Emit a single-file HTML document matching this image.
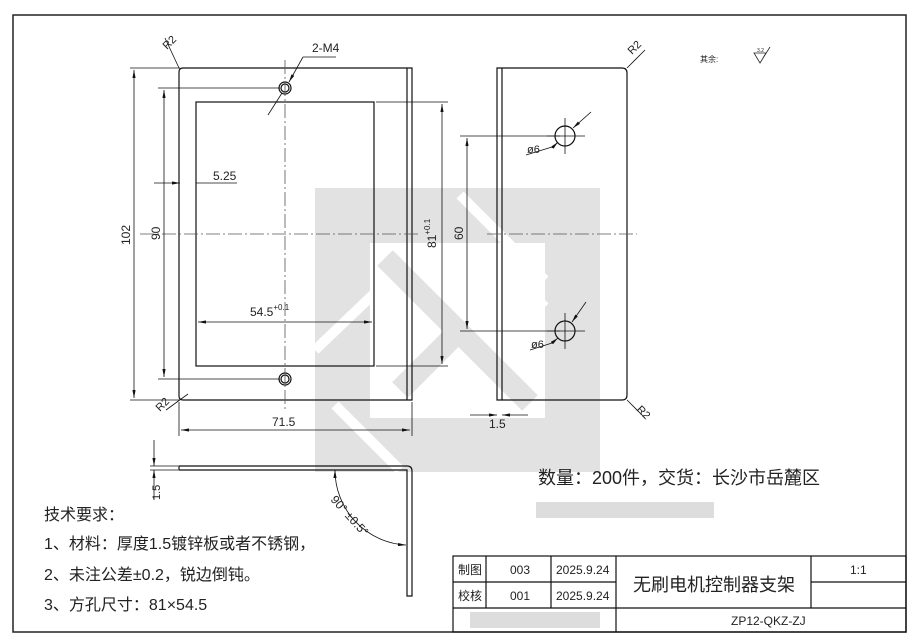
<!DOCTYPE html>
<html><head><meta charset="utf-8"><style>
body{margin:0;background:#fff;width:915px;height:641px;overflow:hidden}
svg{display:block}
text{font-family:"Liberation Sans","Noto Sans CJK SC",sans-serif;fill:#222}
.n{font-family:"Liberation Sans Narrow","Liberation Sans",sans-serif}
</style></head><body>
<svg width="915" height="641" viewBox="0 0 915 641" xmlns="http://www.w3.org/2000/svg">
<defs><marker id="a" viewBox="0 0 10 4" refX="10" refY="2" markerWidth="10" markerHeight="4" orient="auto-start-reverse"><path d="M0,0L10,2L0,4z" fill="#111"/></marker></defs>
<g fill="#e2e2e2">
<rect x="315" y="188" width="285" height="284"/>
</g>
<rect x="370" y="243" width="175" height="175" fill="#fff"/>
<g stroke="#fff" stroke-width="10">
<line x1="460" y1="195" x2="545" y2="280"/>
<line x1="315" y1="350" x2="380" y2="288"/>
<line x1="380" y1="340" x2="450" y2="410"/>
<line x1="470" y1="375" x2="545" y2="300"/>
<line x1="400" y1="470" x2="335" y2="405"/>
</g>
<g stroke="#e2e2e2" stroke-width="22">
<line x1="385" y1="258" x2="530" y2="403"/>
<line x1="400" y1="390" x2="455" y2="335"/>
</g>
<rect x="13" y="15" width="893" height="617" fill="none" stroke="#222" stroke-width="1.5"/>
<g fill="none" stroke="#111" stroke-width="1.2">
<path d="M183,68H412V400H183Q179,400 179,396V72Q179,68 183,68Z"/>
<line x1="407" y1="68" x2="407" y2="400"/>
<rect x="196" y="102" width="178" height="264"/>
<circle cx="285" cy="88" r="6"/><circle cx="285" cy="88" r="4"/>
<circle cx="285" cy="379" r="6"/><circle cx="285" cy="379" r="4"/>
<path d="M497,68H622Q627,68 627,73V395Q627,400 622,400H497Z"/>
<line x1="502" y1="68" x2="502" y2="400"/>
<circle cx="565" cy="136" r="10"/><circle cx="565" cy="331" r="10"/>
<path d="M179,466H407Q412,466 412,471V596H407V470H179Z"/>
</g>
<g stroke="#555" stroke-width="0.8" stroke-dasharray="14,3,2,3" fill="none">
<line x1="285" y1="60" x2="285" y2="410"/>
<line x1="140" y1="234" x2="420" y2="234"/>
<line x1="487" y1="234" x2="637" y2="234"/>
</g>
<g stroke="#111" stroke-width="0.8" fill="none">
<line x1="565" y1="118" x2="565" y2="154"/><line x1="547" y1="136" x2="585" y2="136"/>
<line x1="565" y1="313" x2="565" y2="349"/><line x1="547" y1="331" x2="585" y2="331"/>
<line x1="130" y1="68" x2="180" y2="68"/><line x1="130" y1="400" x2="180" y2="400"/>
<line x1="134" y1="70" x2="134" y2="398" marker-start="url(#a)" marker-end="url(#a)"/>
<line x1="158" y1="88" x2="280" y2="88"/><line x1="158" y1="379" x2="280" y2="379"/>
<line x1="164" y1="90" x2="164" y2="377" marker-start="url(#a)" marker-end="url(#a)"/>
<line x1="154" y1="183" x2="180" y2="183" marker-end="url(#a)"/><line x1="196" y1="183" x2="237" y2="183"/>
<line x1="198" y1="322" x2="372" y2="322" marker-start="url(#a)" marker-end="url(#a)"/>
<line x1="376" y1="102" x2="448" y2="102"/><line x1="376" y1="366" x2="448" y2="366"/>
<line x1="442" y1="104" x2="442" y2="364" marker-start="url(#a)" marker-end="url(#a)"/>
<line x1="179" y1="402" x2="179" y2="436"/><line x1="412" y1="402" x2="412" y2="436"/>
<line x1="181" y1="430" x2="410" y2="430" marker-start="url(#a)" marker-end="url(#a)"/>
<line x1="268" y1="115" x2="282" y2="93" /><line x1="289" y1="82" x2="303" y2="57" marker-start="url(#a)"/><line x1="303" y1="57" x2="336" y2="57"/>
<line x1="165" y1="38" x2="179" y2="68" /><line x1="188" y1="394" x2="166" y2="410"/>
<line x1="460" y1="136" x2="560" y2="136"/><line x1="460" y1="331" x2="560" y2="331"/>
<line x1="467" y1="138" x2="467" y2="329" marker-start="url(#a)" marker-end="url(#a)"/>
<line x1="526" y1="155" x2="552" y2="147" /><line x1="552" y1="148" x2="558" y2="142" marker-end="url(#a)"/><line x1="573" y1="128" x2="591" y2="112" marker-start="url(#a)"/>
<line x1="530" y1="350" x2="552" y2="343" /><line x1="552" y1="343" x2="558" y2="338" marker-end="url(#a)"/><line x1="572" y1="322" x2="586" y2="302" marker-start="url(#a)"/>
<line x1="470" y1="415" x2="497" y2="415" marker-end="url(#a)"/><line x1="502" y1="415" x2="528" y2="415" marker-start="url(#a)"/>
<line x1="627" y1="68" x2="645" y2="50"/><line x1="627" y1="400" x2="645" y2="418"/>
<line x1="150" y1="466" x2="178" y2="466"/><line x1="150" y1="470" x2="178" y2="470"/>
<line x1="154" y1="440" x2="154" y2="466" marker-end="url(#a)"/><line x1="154" y1="470" x2="154" y2="500" marker-start="url(#a)"/>
<path d="M335,470 A75,75 0 0 0 406,545" marker-start="url(#a)" marker-end="url(#a)"/>
</g>
<g class="n" font-size="12">
<text x="312" y="52">2-M4</text>
<text x="213" y="180">5.25</text>
<text x="250" y="316">54.5<tspan font-size="8" dy="-6">+0.1</tspan></text>
<text x="272" y="426">71.5</text>
<text x="489" y="428">1.5</text>
<text x="527" y="153" font-size="11">ø6</text>
<text x="531" y="348" font-size="11">ø6</text>
<text transform="translate(130,245) rotate(-90)">102</text>
<text transform="translate(160,240) rotate(-90)">90</text>
<text transform="translate(436,248) rotate(-90)">81<tspan font-size="8" dy="-6">+0.1</tspan></text>
<text transform="translate(463,240) rotate(-90)">60</text>
<text transform="translate(160,500) rotate(-90)" font-size="11">1.5</text>
<text transform="translate(167,50) rotate(-45)" font-size="11">R2</text>
<text transform="translate(160,412) rotate(-45)" font-size="11">R2</text>
<text transform="translate(632,55) rotate(-45)" font-size="11">R2</text>
<text transform="translate(636,410) rotate(45)" font-size="11">R2</text>
<text transform="translate(330,500) rotate(48)" font-size="12">90° ±0.5°</text>
</g>
<text x="700" y="62" font-size="8">其余:</text>
<text x="757" y="52" font-size="5">3.2</text>
<path d="M754,53H766L760,63Z M760,63L770,47" fill="none" stroke="#222" stroke-width="0.8"/>
<text x="538" y="484" font-size="18">数量：200件，交货：长沙市岳麓区</text>
<rect x="536" y="502" width="178" height="16" fill="#ddd"/>
<text x="44" y="520" font-size="16">技术要求：</text>
<text x="44" y="549" font-size="16">1、材料：厚度1.5镀锌板或者不锈钢，</text>
<text x="44" y="580" font-size="16">2、未注公差±0.2，锐边倒钝。</text>
<text x="44" y="610" font-size="16">3、方孔尺寸：81×54.5</text>
<g stroke="#111" stroke-width="1.2" fill="none">
<rect x="453" y="556" width="453" height="76"/>
<line x1="453" y1="582" x2="616" y2="582"/><line x1="453" y1="608" x2="906" y2="608"/>
<line x1="811" y1="582" x2="906" y2="582"/>
<line x1="486" y1="556" x2="486" y2="608"/><line x1="551" y1="556" x2="551" y2="608"/>
<line x1="616" y1="556" x2="616" y2="632"/><line x1="811" y1="556" x2="811" y2="608"/>
</g>
<rect x="470" y="612" width="130" height="16" fill="#ddd"/>
<g font-size="12">
<text x="458" y="574">制图</text><text x="458" y="600">校核</text>
<text x="510" y="574" class="n">003</text><text x="510" y="600" class="n">001</text>
<text x="556" y="574" class="n">2025.9.24</text><text x="556" y="600" class="n">2025.9.24</text>
<text x="633" y="591" font-size="18">无刷电机控制器支架</text>
<text x="850" y="574" class="n">1:1</text>
<text x="731" y="625" class="n">ZP12-QKZ-ZJ</text>
</g>
</svg>
</body></html>
